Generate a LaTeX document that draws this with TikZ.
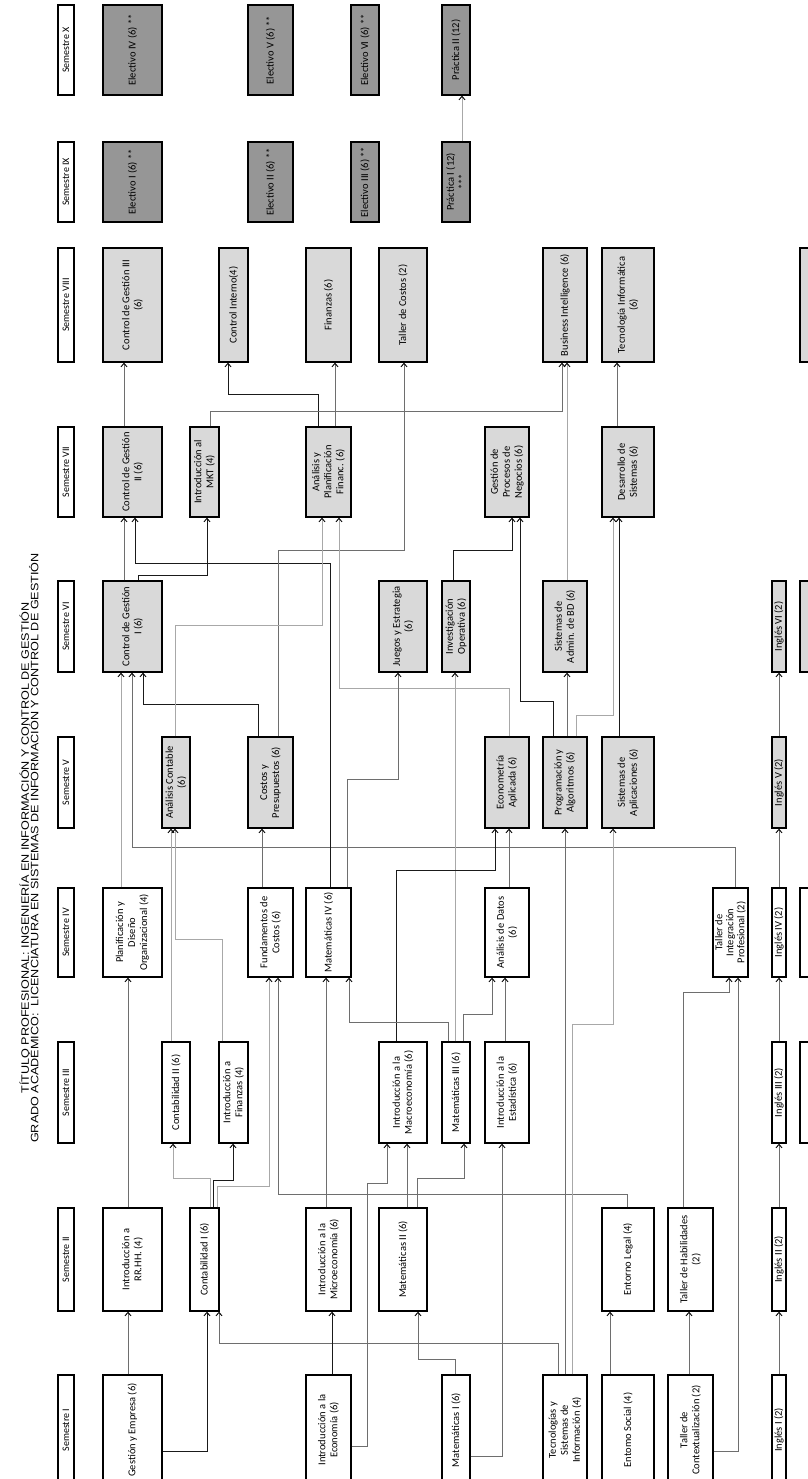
\documentclass[tikz,border=0pt]{standalone}
\usepackage{fontspec}
\setmainfont{Carlito}
\newfontfamily\titlefont[FakeStretch=1.18]{Liberation Sans}
\usetikzlibrary{arrows.meta}

\definecolor{lgray}{HTML}{D9D9D9}
\definecolor{dgray}{HTML}{969696}
\definecolor{ka}{HTML}{1A1A1A}
\definecolor{kd}{HTML}{6E6E6E}
\definecolor{kl}{HTML}{A8A8A8}

\tikzset{
  crs/.style={draw, line width=1.3pt, rotate=90, align=center, inner sep=1pt,
    font=\fontsize{10.5}{12}\selectfont},
  sem/.style={crs, fill=white, font=\fontsize{10}{12}\selectfont},
  wb/.style={crs, fill=white},
  lb/.style={crs, fill=lgray},
  db/.style={crs, fill=dgray},
  % row heights (text direction)
  r1/.style={minimum width=110pt}, r2/.style={minimum width=103pt},
  r3/.style={minimum width=101pt}, r4/.style={minimum width=89pt},
  r5/.style={minimum width=91pt},  r6/.style={minimum width=91pt},
  r7/.style={minimum width=90pt},  r8/.style={minimum width=114pt},
  r9/.style={minimum width=80pt},  r10/.style={minimum width=90pt},
  % column widths
  cw/.style={minimum height=#1pt},
  dep/.style={line width=0.9pt, -{Straight Barb[length=3.5pt,width=6pt,color=black]}},
}

\begin{document}
\begin{tikzpicture}[x=1pt,y=-1pt]
  \useasboundingbox (0,0) rectangle (807,1479);

  % title
  \node[rotate=90, align=center, inner sep=0pt,
    font=\titlefont\fontsize{10.7}{9.5}\selectfont] (title) at (29,848)
    {TÍTULO PROFESIONAL: INGENIERÍA EN INFORMACIÓN Y CONTROL DE GESTIÓN\\
     GRADO ACADÉMICO:\ \ LICENCIATURA EN SISTEMAS DE INFORMACIÓN Y CONTROL DE GESTIÓN};

  % semester headers
  \node[sem,r1,cw=16] (s1) at (66,1430) {Semestre I};
  \node[sem,r2,cw=16] (s2) at (66,1259.5) {Semestre II};
  \node[sem,r3,cw=16] (s3) at (66,1092.5) {Semestre III};
  \node[sem,r4,cw=16] (s4) at (66,932.5) {Semestre IV};
  \node[sem,r5,cw=16] (s5) at (66,782.5) {Semestre V};
  \node[sem,r6,cw=16] (s6) at (66,626.5) {Semestre VI};
  \node[sem,r7,cw=16] (s7) at (66,472) {Semestre VII};
  \node[sem,r8,cw=16] (s8) at (66,305) {Semestre VIII};
  \node[sem,r9,cw=16] (s9) at (66,182) {Semestre IX};
  \node[sem,r10,cw=16] (s10) at (66,50) {Semestre X};

  % semester I
  \node[wb,r1,cw=59] (ge) at (132.5,1430) {Gestión y Empresa (6)};
  \node[wb,r1,cw=45] (ieco) at (328.5,1430) {Introducción a la\\Economía (6)};
  \node[wb,r1,cw=28] (mat1) at (456,1430) {Matemáticas I (6)};
  \node[wb,r1,cw=44] (tsi) at (565,1430) {Tecnologías y\\Sistemas de\\Información (4)};
  \node[wb,r1,cw=52] (esoc) at (628,1430) {Entomo Social (4)};
  \node[wb,r1,cw=45] (tctx) at (690.5,1430) {Taller de\\Contextualización (2)};
  \node[wb,r1,cw=14] (ing1) at (779,1430) {Inglés I (2)};

  % semester II
  \node[wb,r2,cw=59] (rrhh) at (132.5,1259.5) {Introducción a\\RR.HH. (4)};
  \node[wb,r2,cw=29] (cont1) at (204.5,1259.5) {Contabilidad I (6)};
  \node[wb,r2,cw=45] (imic) at (328.5,1259.5) {Introducción a la\\Microeconomía (6)};
  \node[wb,r2,cw=48] (mat2) at (403,1259.5) {Matemáticas II (6)};
  \node[wb,r2,cw=52] (legal) at (628,1259.5) {Entorno Legal (4)};
  \node[wb,r2,cw=45] (thab) at (690.5,1259.5) {Taller de Habilidades\\(2)};
  \node[wb,r2,cw=14] (ing2) at (779,1259.5) {Inglés II (2)};

  % semester III
  \node[wb,r3,cw=28] (cont2) at (176,1092.5) {Contabilidad II (6)};
  \node[wb,r3,cw=29] (ifin) at (233.5,1092.5) {Introducción a\\Finanzas (4)};
  \node[wb,r3,cw=48] (imac) at (403,1092.5) {Introducción a la\\Macroeconomía (6)};
  \node[wb,r3,cw=28] (mat3) at (456,1092.5) {Matemáticas III (6)};
  \node[wb,r3,cw=44] (iest) at (507,1092.5) {Introducción a la\\Estadística (6)};
  \node[wb,r3,cw=14] (ing3) at (779,1092.5) {Inglés III (2)};
  \node[wb,r3,cw=30] (lib1) at (815,1092.5) {Libre I (2)};

  % semester IV
  \node[wb,r4,cw=59] (plan) at (132.5,932.5) {Planificación y\\Diseño\\Organizacional (4)};
  \node[wb,r4,cw=45] (fcos) at (270.5,932.5) {Fundamentos de\\Costos (6)};
  \node[wb,r4,cw=45] (mat4) at (328.5,932.5) {Matemáticas IV (6)};
  \node[wb,r4,cw=44] (adat) at (507,932.5) {Análisis de Datos\\(6)};
  \node[wb,r4,cw=35,inner sep=0pt,font=\fontsize{10.5}{11}\selectfont] (tip) at (730.5,932.5) {Taller de\\Integración\\Profesional (2)};
  \node[wb,r4,cw=14] (ing4) at (779,932.5) {Inglés IV (2)};
  \node[wb,r4,cw=30] (lib2) at (815,932.5) {Libre II (2)};

  % semester V
  \node[lb,r5,cw=28] (acon) at (176,782.5) {Análisis Contable\\(6)};
  \node[lb,r5,cw=45] (cyp) at (270.5,782.5) {Costos y\\Presupuestos (6)};
  \node[lb,r5,cw=44] (econ) at (507,782.5) {Econometría\\Aplicada (6)};
  \node[lb,r5,cw=44] (pya) at (565,782.5) {Programación y\\Algoritmos (6)};
  \node[lb,r5,cw=52] (sapl) at (628,782.5) {Sistemas de\\Aplicaciones (6)};
  \node[lb,r5,cw=14] (ing5) at (779,782.5) {Inglés V (2)};

  % semester VI
  \node[lb,r6,cw=59] (cg1) at (132.5,626.5) {Control de Gestión\\I (6)};
  \node[lb,r6,cw=48] (jye) at (403,626.5) {Juegos y Estrategia\\(6)};
  \node[lb,r6,cw=28] (iop) at (456,626.5) {Investigación\\Operativa (6)};
  \node[lb,r6,cw=44] (sabd) at (565,626.5) {Sistemas de\\Admin. de BD (6)};
  \node[lb,r6,cw=14] (ing6) at (779,626.5) {Inglés VI (2)};
  \node[lb,r6,cw=30] (lib3) at (815,626.5) {Libre III (2)};

  % semester VII
  \node[lb,r7,cw=59] (cg2) at (132.5,472) {Control de Gestión\\II (6)};
  \node[lb,r7,cw=29] (mkt) at (204.5,472) {Introducción al\\MKT (4)};
  \node[lb,r7,cw=45] (apf) at (328.5,472) {Análisis y\\Planificación\\Financ. (6)};
  \node[lb,r7,cw=44] (gpn) at (507,472) {Gestión de\\Procesos de\\Negocios (6)};
  \node[lb,r7,cw=52] (dsis) at (628,472) {Desarrollo de\\Sistemas (6)};

  % semester VIII
  \node[lb,r8,cw=59] (cg3) at (132.5,305) {Control de Gestión III\\(6)};
  \node[lb,r8,cw=29] (cint) at (233.5,305) {Control Interno(4)};
  \node[lb,r8,cw=45] (fin) at (328.5,305) {Finanzas (6)};
  \node[lb,r8,cw=48] (tcos) at (403,305) {Taller de Costos (2)};
  \node[lb,r8,cw=44] (bi) at (565,305) {Business Intelligence (6)};
  \node[lb,r8,cw=52] (tinf) at (628,305) {Tecnología Informática\\(6)};
  \node[lb,r8,cw=30] (lib4) at (815,305) {Libre IV (2)};

  % semester IX
  \node[db,r9,cw=59] (el1) at (132.5,182) {Electivo I (6) **};
  \node[db,r9,cw=45] (el2) at (270.5,182) {Electivo II (6) **};
  \node[db,r9,cw=28] (el3) at (365,182) {Electivo III (6) **};
  \node[db,r9,cw=28] (pr1) at (456,182) {Práctica I (12)\\***};

  % semester X
  \node[db,r10,cw=59] (el4) at (132.5,50) {Electivo IV (6) **};
  \node[db,r10,cw=45] (el5) at (270.5,50) {Electivo V (6) **};
  \node[db,r10,cw=28] (el6) at (365,50) {Electivo VI (6) **};
  \node[db,r10,cw=28] (pr2) at (456,50) {Práctica II (12)};

  % prerequisites
  \draw[dep,kd] (ge.east -| 128,0) -- (rrhh.west -| 128,0);
  \draw[dep,ka] (ge.south |- 0,1451) -| (cont1.west -| 207,0);
  \draw[dep,kd] (tsi.east -| 558,0) |- (219,1343) -- (cont1.west -| 219,0);
  \draw[dep,kl] (cont1.east -| 210,0) |- (173,1178) -- (cont2.west -| 173,0);
  \draw[dep,ka] (cont1.east -| 213,0) |- (233,1180) -- (ifin.west -| 233,0);
  \draw[dep,kl] (cont1.east -| 217,0) |- (269,1186) -- (fcos.west -| 269,0);
  \draw[dep,kd] (legal.east -| 627,0) |- (278,1194) -- (fcos.west -| 278,0);
  \draw[dep,kd] (rrhh.east -| 128,0) -- (plan.west -| 128,0);
  \draw[dep,kl] (plan.east -| 121,0) -- (cg1.west -| 121,0);
  \draw[dep,kd] (tip.east -| 735,0) |- (132,847) -- (cg1.west -| 132,0);
  \draw[dep,ka] (cyp.east -| 258,0) |- (143,704) -- (cg1.west -| 143,0);
  \draw[dep,kd] (cg1.east -| 124,0) -- (cg2.west -| 124,0);
  \draw[dep,ka] (cg1.east -| 138,0) |- (207,575) -- (mkt.west -| 207,0);
  \draw[dep,ka] (mat4.east -| 330,0) |- (135,563) -- (cg2.west -| 135,0);
  \draw[dep,kd] (cg2.east -| 124,0) -- (cg3.west -| 124,0);
  \draw[dep,ka] (apf.east -| 318,0) |- (228,394) -- (cint.west -| 228,0);
  \draw[dep,kd] (mkt.east -| 210,0) |- (562,411) -- (bi.west -| 562,0);
  \draw[dep,kd] (apf.east -| 335,0) -- (fin.west -| 335,0);
  \draw[dep,kd] (cyp.east -| 278,0) |- (404,550) -- (tcos.west -| 404,0);
  \draw[dep,kl] (acon.east -| 175,0) |- (322,625) -- (apf.west -| 322,0);
  \draw[dep,kl] (econ.east -| 509,0) |- (339,688) -- (apf.west -| 339,0);
  \draw[dep,kd] (mat4.east -| 347,0) |- (398,779) -- (jye.west -| 398,0);
  \draw[dep,kl] (mat3.east -| 455,0) -- (iop.west -| 455,0);
  \draw[dep,ka] (iop.east -| 453,0) |- (512,550) -- (gpn.west -| 512,0);
  \draw[dep,ka] (pya.east -| 553,0) |- (520,701) -- (gpn.west -| 520,0);
  \draw[dep,kd] (pya.east -| 567,0) -- (sabd.west -| 567,0);
  \draw[dep,kl] (sabd.east -| 567,0) -- (bi.west -| 567,0);
  \draw[dep,kl] (pya.east -| 576,0) |- (613,715) -- (dsis.west -| 613,0);
  \draw[dep,ka] (sapl.east -| 619,0) -- (dsis.west -| 619,0);
  \draw[dep,kd] (dsis.east -| 617,0) -- (tinf.west -| 617,0);
  \draw[dep,kd] (tsi.east -| 565,0) -- (pya.west -| 565,0);
  \draw[dep,kl] (tsi.east -| 572,0) |- (613,1024) -- (sapl.west -| 613,0);
  \draw[dep,kd] (thab.east -| 683,0) |- (729,992) -- (tip.west -| 729,0);
  \draw[dep,kd] (tctx.south |- 0,1451) -| (tip.west -| 738,0);
  \draw[dep,kd] (esoc.east -| 610,0) -- (legal.west -| 610,0);
  \draw[dep,kd] (tctx.east -| 689,0) -- (thab.west -| 689,0);
  \draw[dep,ka] (ieco.east -| 332,0) -- (imic.west -| 332,0);
  \draw[dep,kd] (ieco.south |- 0,1446) -| (367,1183) -| (imac.west -| 387,0);
  \draw[dep,kd] (imic.east -| 326,0) -- (mat4.west -| 326,0);
  \draw[dep,kd] (mat2.east -| 407,0) -- (imac.west -| 407,0);
  \draw[dep,kd] (mat2.east -| 417,0) |- (464,1178) -- (mat3.west -| 464,0);
  \draw[dep,kd] (mat1.east -| 455,0) |- (418,1359) -- (mat2.west -| 418,0);
  \draw[dep,kd] (mat1.south |- 0,1456) -| (iest.west -| 502,0);
  \draw[dep,ka] (imac.east -| 396,0) |- (495,870) -- (econ.west -| 495,0);
  \draw[dep,kd] (adat.east -| 509,0) -- (econ.west -| 509,0);
  \draw[dep,kd] (mat3.east -| 448,0) |- (349,1022) -- (mat4.west -| 349,0);
  \draw[dep,kd] (mat3.east -| 463,0) |- (492,1014) -- (adat.west -| 492,0);
  \draw[dep,kd] (iest.east -| 505,0) -- (adat.west -| 505,0);
  \draw[dep,kd] (fcos.east -| 262,0) -- (cyp.west -| 262,0);
  \draw[dep,kl] (cont2.east -| 171,0) -- (acon.west -| 171,0);
  \draw[dep,kl] (ifin.east -| 222,0) |- (175,939) -- (acon.west -| 175,0);
  \draw[dep,kl] (pr1.east -| 462,0) -- (pr2.west -| 462,0);
  \foreach \a/\b in {ing1/ing2,ing2/ing3,ing3/ing4,ing4/ing5,ing5/ing6}
    \draw[dep,kd] (\a.east) -- (\b.west);
\end{tikzpicture}
\end{document}
